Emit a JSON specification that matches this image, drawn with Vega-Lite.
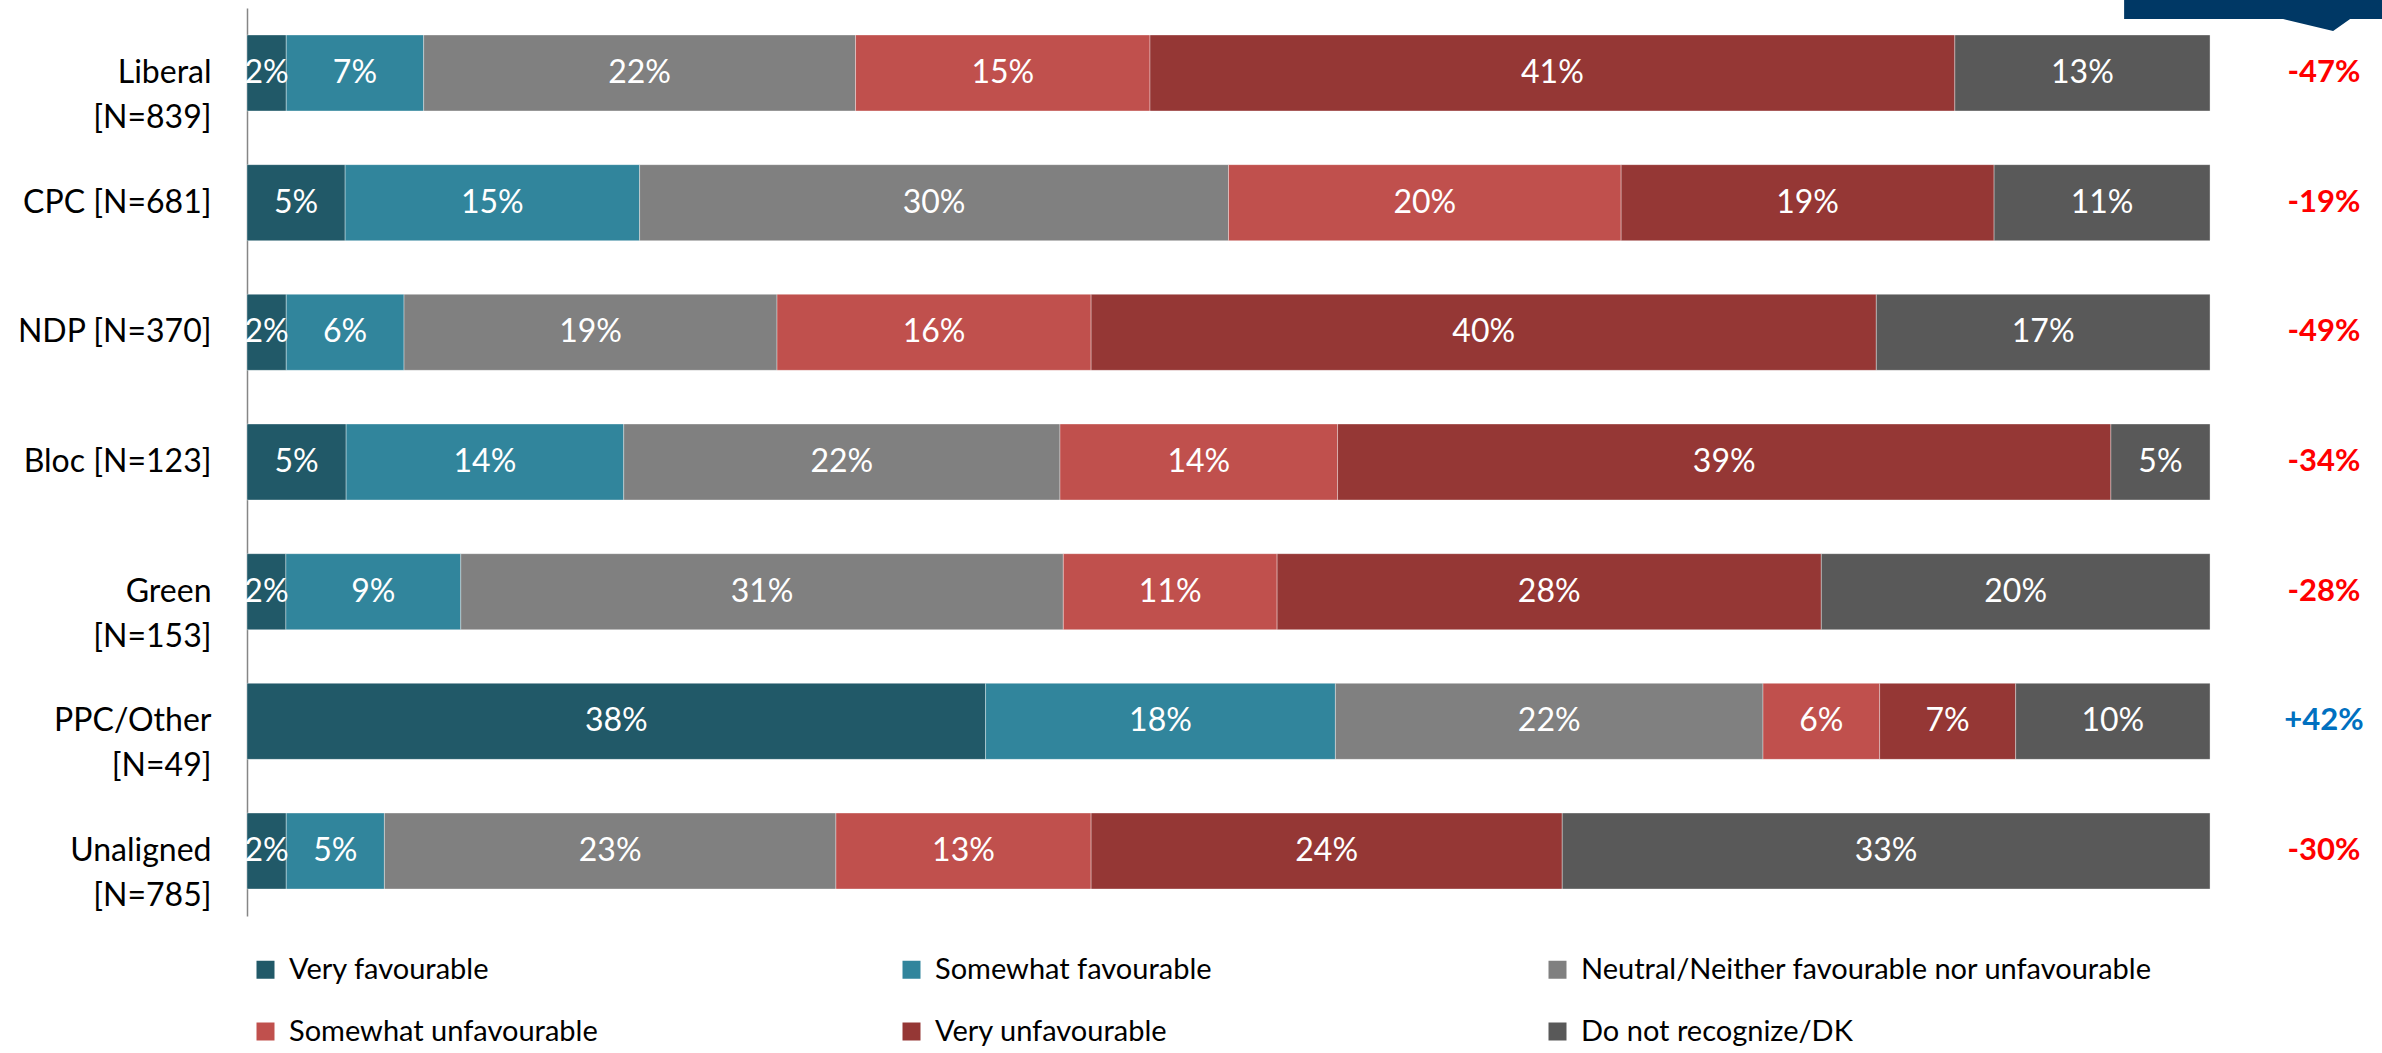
{
  "$schema": "https://vega.github.io/schema/vega-lite/v6.json",
  "width": 2135,
  "height": 908,
  "autosize": {"type": "none"},
  "padding": {"left": 247, "top": 8, "right": 0, "bottom": 137},
  "background": "white",
  "config": {
    "view": {"stroke": null},
    "font": "Lato",
    "locale": {"number": {"decimal": ".", "thousands": ",", "grouping": [3], "currency": ["$", ""], "minus": "-"}}
  },
  "datasets": {
    "bars": [
      {"party": "Liberal|[N=839]", "response": "Very favourable", "k": 1, "pct": 0.02},
      {"party": "Liberal|[N=839]", "response": "Somewhat favourable", "k": 2, "pct": 0.07},
      {"party": "Liberal|[N=839]", "response": "Neutral/Neither favourable nor unfavourable", "k": 3, "pct": 0.22},
      {"party": "Liberal|[N=839]", "response": "Somewhat unfavourable", "k": 4, "pct": 0.15},
      {"party": "Liberal|[N=839]", "response": "Very unfavourable", "k": 5, "pct": 0.41},
      {"party": "Liberal|[N=839]", "response": "Do not recognize/DK", "k": 6, "pct": 0.13},
      {"party": "CPC [N=681]", "response": "Very favourable", "k": 1, "pct": 0.05},
      {"party": "CPC [N=681]", "response": "Somewhat favourable", "k": 2, "pct": 0.15},
      {"party": "CPC [N=681]", "response": "Neutral/Neither favourable nor unfavourable", "k": 3, "pct": 0.30},
      {"party": "CPC [N=681]", "response": "Somewhat unfavourable", "k": 4, "pct": 0.20},
      {"party": "CPC [N=681]", "response": "Very unfavourable", "k": 5, "pct": 0.19},
      {"party": "CPC [N=681]", "response": "Do not recognize/DK", "k": 6, "pct": 0.11},
      {"party": "NDP [N=370]", "response": "Very favourable", "k": 1, "pct": 0.02},
      {"party": "NDP [N=370]", "response": "Somewhat favourable", "k": 2, "pct": 0.06},
      {"party": "NDP [N=370]", "response": "Neutral/Neither favourable nor unfavourable", "k": 3, "pct": 0.19},
      {"party": "NDP [N=370]", "response": "Somewhat unfavourable", "k": 4, "pct": 0.16},
      {"party": "NDP [N=370]", "response": "Very unfavourable", "k": 5, "pct": 0.40},
      {"party": "NDP [N=370]", "response": "Do not recognize/DK", "k": 6, "pct": 0.17},
      {"party": "Bloc [N=123]", "response": "Very favourable", "k": 1, "pct": 0.05},
      {"party": "Bloc [N=123]", "response": "Somewhat favourable", "k": 2, "pct": 0.14},
      {"party": "Bloc [N=123]", "response": "Neutral/Neither favourable nor unfavourable", "k": 3, "pct": 0.22},
      {"party": "Bloc [N=123]", "response": "Somewhat unfavourable", "k": 4, "pct": 0.14},
      {"party": "Bloc [N=123]", "response": "Very unfavourable", "k": 5, "pct": 0.39},
      {"party": "Bloc [N=123]", "response": "Do not recognize/DK", "k": 6, "pct": 0.05},
      {"party": "Green|[N=153]", "response": "Very favourable", "k": 1, "pct": 0.02},
      {"party": "Green|[N=153]", "response": "Somewhat favourable", "k": 2, "pct": 0.09},
      {"party": "Green|[N=153]", "response": "Neutral/Neither favourable nor unfavourable", "k": 3, "pct": 0.31},
      {"party": "Green|[N=153]", "response": "Somewhat unfavourable", "k": 4, "pct": 0.11},
      {"party": "Green|[N=153]", "response": "Very unfavourable", "k": 5, "pct": 0.28},
      {"party": "Green|[N=153]", "response": "Do not recognize/DK", "k": 6, "pct": 0.20},
      {"party": "PPC/Other|[N=49]", "response": "Very favourable", "k": 1, "pct": 0.38},
      {"party": "PPC/Other|[N=49]", "response": "Somewhat favourable", "k": 2, "pct": 0.18},
      {"party": "PPC/Other|[N=49]", "response": "Neutral/Neither favourable nor unfavourable", "k": 3, "pct": 0.22},
      {"party": "PPC/Other|[N=49]", "response": "Somewhat unfavourable", "k": 4, "pct": 0.06},
      {"party": "PPC/Other|[N=49]", "response": "Very unfavourable", "k": 5, "pct": 0.07},
      {"party": "PPC/Other|[N=49]", "response": "Do not recognize/DK", "k": 6, "pct": 0.10},
      {"party": "Unaligned|[N=785]", "response": "Very favourable", "k": 1, "pct": 0.02},
      {"party": "Unaligned|[N=785]", "response": "Somewhat favourable", "k": 2, "pct": 0.05},
      {"party": "Unaligned|[N=785]", "response": "Neutral/Neither favourable nor unfavourable", "k": 3, "pct": 0.23},
      {"party": "Unaligned|[N=785]", "response": "Somewhat unfavourable", "k": 4, "pct": 0.13},
      {"party": "Unaligned|[N=785]", "response": "Very unfavourable", "k": 5, "pct": 0.24},
      {"party": "Unaligned|[N=785]", "response": "Do not recognize/DK", "k": 6, "pct": 0.33}
    ],
    "net": [
      {"party": "Liberal|[N=839]", "net": -0.47},
      {"party": "CPC [N=681]", "net": -0.19},
      {"party": "NDP [N=370]", "net": -0.49},
      {"party": "Bloc [N=123]", "net": -0.34},
      {"party": "Green|[N=153]", "net": -0.28},
      {"party": "PPC/Other|[N=49]", "net": 0.42},
      {"party": "Unaligned|[N=785]", "net": -0.30}
    ]
  },
  "layer": [
    {
      "data": {"name": "bars"},
      "mark": {"type": "bar", "stroke": "#ffffff", "strokeWidth": 1, "strokeOpacity": 0.35},
      "encoding": {
        "y": {
          "field": "party", "type": "nominal",
          "sort": ["Liberal|[N=839]", "CPC [N=681]", "NDP [N=370]", "Bloc [N=123]", "Green|[N=153]", "PPC/Other|[N=49]", "Unaligned|[N=785]"],
          "scale": {"paddingInner": 0.414, "paddingOuter": 0.208},
          "axis": {
            "title": null, "ticks": false, "grid": false,
            "labelExpr": "split(datum.label, '|')",
            "labelFont": "Lato", "labelFontSize": 32, "labelColor": "#000000",
            "labelPadding": 36, "labelLineHeight": 45, "labelLimit": 500,
            "domainColor": "#868686", "domainWidth": 1.5
          }
        },
        "x": {
          "field": "pct", "type": "quantitative", "stack": "normalize",
          "scale": {"domain": [0, 1.0876], "nice": false, "zero": true},
          "axis": null
        },
        "color": {
          "field": "response", "type": "nominal",
          "scale": {
            "domain": ["Very favourable", "Somewhat favourable", "Neutral/Neither favourable nor unfavourable", "Somewhat unfavourable", "Very unfavourable", "Do not recognize/DK"],
            "range": ["#215968", "#31859C", "#808080", "#C0504D", "#953735", "#595959"]
          },
          "legend": {
            "title": null, "orient": "none", "legendX": 4, "legendY": 947,
            "direction": "horizontal", "columns": 3, "gridAlign": "all",
            "columnPadding": 36, "rowPadding": 32,
            "symbolType": "square", "symbolSize": 324, "symbolStrokeWidth": 0,
            "labelFont": "Lato", "labelFontSize": 29, "labelOffset": 9, "labelLimit": 1000, "labelColor": "#000000"
          }
        },
        "order": {"field": "k", "type": "quantitative"}
      }
    },
    {
      "data": {"name": "bars"},
      "mark": {"type": "text", "color": "#ffffff", "fontSize": 32, "baseline": "middle", "align": "center"},
      "encoding": {
        "y": {
          "field": "party", "type": "nominal",
          "sort": ["Liberal|[N=839]", "CPC [N=681]", "NDP [N=370]", "Bloc [N=123]", "Green|[N=153]", "PPC/Other|[N=49]", "Unaligned|[N=785]"]
        },
        "x": {"field": "pct", "type": "quantitative", "stack": "normalize", "bandPosition": 0.5},
        "detail": {"field": "response"},
        "order": {"field": "k", "type": "quantitative"},
        "text": {"field": "pct", "type": "quantitative", "format": ".0%"}
      }
    },
    {
      "data": {"name": "net"},
      "mark": {"type": "text", "fontSize": 31, "fontWeight": "bold", "baseline": "middle", "align": "center"},
      "encoding": {
        "y": {
          "field": "party", "type": "nominal",
          "sort": ["Liberal|[N=839]", "CPC [N=681]", "NDP [N=370]", "Bloc [N=123]", "Green|[N=153]", "PPC/Other|[N=49]", "Unaligned|[N=785]"]
        },
        "x": {"datum": 1.058},
        "text": {"field": "net", "type": "quantitative", "format": "+.0%"},
        "color": {"condition": {"test": "datum.net > 0", "value": "#0070C0"}, "value": "#FF0000"}
      }
    },
    {
      "data": {"values": [{"party": "Liberal|[N=839]"}]},
      "mark": {
        "type": "point", "filled": true, "opacity": 1, "color": "#003865", "size": 4,
        "shape": "M-209,-100 L60,-100 L60,-54 L17,-54 L0,-42 L-50,-54 L-209,-54 Z"
      },
      "encoding": {
        "y": {
          "field": "party", "type": "nominal",
          "sort": ["Liberal|[N=839]", "CPC [N=681]", "NDP [N=370]", "Bloc [N=123]", "Green|[N=153]", "PPC/Other|[N=49]", "Unaligned|[N=785]"]
        },
        "x": {"datum": 1.0627}
      }
    }
  ]
}
